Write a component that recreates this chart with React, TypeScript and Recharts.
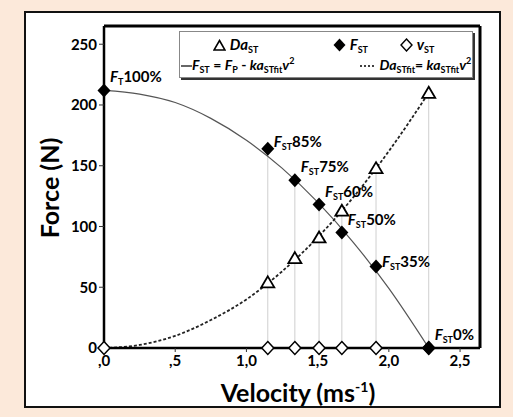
import { ComposedChart, Line, ReferenceLine, Scatter, XAxis, YAxis } from 'recharts';

// measured points
const velocity = [0, 1.15, 1.34, 1.51, 1.67, 1.91, 2.28];
const forceST = [212, 164, 138, 118, 95, 67, 0];
const labelSub = ['T', 'ST', 'ST', 'ST', 'ST', 'ST', 'ST'];
const labelPct = ['100%', '85%', '75%', '60%', '50%', '35%', '0%'];

const daVelocity = [1.15, 1.34, 1.51, 1.67, 1.91, 2.28];
const daST = [54, 74, 91, 113, 148, 210];

// fitted curves
const fitVelocity = [0, 0.25, 0.5, 0.75, 1, 1.25, 1.5, 1.75, 2, 2.28];
const fitForce = [212, 209, 202, 189, 171, 148, 120, 87, 49, 0];
const fitDa = [0, 2.5, 10, 23, 40, 63, 91, 124, 162, 210];

const xTicks = [0, 0.5, 1, 1.5, 2, 2.5];
const xTickLabels = [',0', ',5', '1,0', '1,5', '2,0', '2,5'];
const yTicks = [0, 50, 100, 150, 200, 250];

const X_MAX = 2.64;
const Y_MAX = 265;
const FONT = 'Lato, "Open Sans", sans-serif';

const fPoints = velocity.map((v, i) => ({ v, y: forceST[i], sub: labelSub[i], pct: labelPct[i] }));
const vPoints = velocity.map((v) => ({ v, y: 0 }));
const daPoints = daVelocity.map((v, i) => ({ v, y: daST[i] }));
const fitFData = fitVelocity.map((v, i) => ({ v, y: fitForce[i] }));
const fitDaData = fitVelocity.map((v, i) => ({ v, y: fitDa[i] }));
const drops = daVelocity.map((v, i) => ({ v, top: Math.max(daST[i], forceST[velocity.indexOf(v)]) }));

const FDiamond = (p: any) => {
    const { cx, cy, payload } = p;
    const dy = payload.pct === '85%' ? -2 : payload.pct === '35%' ? 0 : -8;
    return (
        <g>
            <path d={`M${cx},${cy - 7} L${cx + 6.5},${cy} L${cx},${cy + 7} L${cx - 6.5},${cy} Z`} fill="#000" />
            <text x={cx + 6} y={cy + dy} fontFamily={FONT} fontWeight="bold" fontSize={15} fill="#000">
                <tspan fontStyle="italic">F</tspan>
                <tspan fontSize={9} dy={3}>{payload.sub}</tspan>
                <tspan dy={-3}>{payload.pct}</tspan>
            </text>
        </g>
    );
};

const OpenDiamond = (p: any) => {
    const { cx, cy } = p;
    return <path d={`M${cx},${cy - 6.5} L${cx + 6},${cy} L${cx},${cy + 6.5} L${cx - 6},${cy} Z`} fill="#fff" stroke="#000" strokeWidth={1.5} />;
};

const Triangle = (p: any) => {
    const { cx, cy } = p;
    return <path d={`M${cx},${cy - 6} L${cx + 6.5},${cy + 5} L${cx - 6.5},${cy + 5} Z`} fill="#fff" stroke="#000" strokeWidth={1.8} />;
};

const Sub = ({ children }: { children: any }) => (
    <span style={{ fontSize: 9, fontStyle: 'normal', verticalAlign: -3 }}>{children}</span>
);
const Sup = ({ children }: { children: any }) => (
    <span style={{ fontSize: 9, verticalAlign: 6, lineHeight: 0 }}>{children}</span>
);

function LegendBox() {
    const row: any = { position: 'absolute', whiteSpace: 'nowrap', lineHeight: '18px' };
    return (
        <div
            style={{
                position: 'absolute',
                left: 179,
                top: 31,
                width: 294,
                height: 47,
                boxSizing: 'border-box',
                background: '#fff',
                border: '1px solid #888',
                boxShadow: '2px 2px 0 #333',
                fontFamily: FONT,
                fontWeight: 'bold',
                fontSize: 15,
                color: '#000',
            }}
        >
            <div style={{ ...row, left: 33, top: 3 }}>
                <svg width={13} height={12} style={{ verticalAlign: -1 }}>
                    <path d="M6.5,1.5 L12,11 L1,11 Z" fill="#fff" stroke="#000" strokeWidth={1.6} />
                </svg>{' '}
                <i>Da</i>
                <Sub>ST</Sub>
            </div>
            <div style={{ ...row, left: 153, top: 3 }}>
                <svg width={13} height={14} style={{ verticalAlign: -2 }}>
                    <path d="M6.5,0.5 L12.5,7 L6.5,13.5 L0.5,7 Z" fill="#000" />
                </svg>{' '}
                <i>F</i>
                <Sub>ST</Sub>
            </div>
            <div style={{ ...row, left: 220, top: 3 }}>
                <svg width={13} height={14} style={{ verticalAlign: -2 }}>
                    <path d="M6.5,1 L12,7 L6.5,13 L1,7 Z" fill="#fff" stroke="#000" strokeWidth={1.4} />
                </svg>{' '}
                <i>v</i>
                <Sub>ST</Sub>
            </div>
            <div style={{ ...row, left: 1, top: 24, fontSize: 14 }}>
                <svg width={11} height={10}>
                    <line x1={0} y1={6} x2={11} y2={6} stroke="#000" strokeWidth={1.2} />
                </svg>
                <i>F</i>
                <Sub>ST</Sub> = <i>F</i>
                <Sub>P</Sub> - <i>ka</i>
                <Sub>STfit</Sub>
                <i>v</i>
                <Sup>2</Sup>
            </div>
            <div style={{ ...row, left: 180, top: 24, fontSize: 14 }}>
                <svg width={16} height={10}>
                    <line x1={0} y1={6} x2={16} y2={6} stroke="#000" strokeWidth={1.4} strokeDasharray="2 2" />
                </svg>{' '}
                <i>Da</i>
                <Sub>STfit</Sub>= <i>ka</i>
                <Sub>STfit</Sub>
                <i>v</i>
                <Sup>2</Sup>
            </div>
        </div>
    );
}

export default function App() {
    return (
        <div style={{ position: 'absolute', left: 0, top: 0, width: 513, height: 417, background: '#fce9da' }}>
            <div
                style={{
                    position: 'absolute',
                    left: 24,
                    top: 11,
                    width: 477,
                    height: 397,
                    boxSizing: 'border-box',
                    background: '#fff',
                    border: '2px solid #111',
                }}
            />
            <div style={{ position: 'absolute', left: 0, top: 0 }}>
                <ComposedChart width={513} height={417} margin={{ top: 26, right: 33, bottom: 29, left: 0 }}>
                    <XAxis
                        type="number"
                        dataKey="v"
                        domain={[0, X_MAX]}
                        ticks={xTicks}
                        tickFormatter={(t: number) => xTickLabels[xTicks.indexOf(t)] ?? ''}
                        height={40}
                        tickSize={4}
                        tickMargin={3}
                        axisLine={{ stroke: '#000', strokeWidth: 2.5 }}
                        tickLine={{ stroke: '#333' }}
                        tick={{ fill: '#000', fontSize: 15, fontWeight: 'bold', fontFamily: FONT }}
                        label={{
                            content: (props: any) => {
                                const vb = props.viewBox || { x: 104, y: 348, width: 376 };
                                return (
                                    <text
                                        x={vb.x + vb.width / 2 + 6}
                                        y={vb.y + 54}
                                        textAnchor="middle"
                                        fontFamily={FONT}
                                        fontWeight="bold"
                                        fontSize={25}
                                        fill="#000"
                                    >
                                        Velocity (ms
                                        <tspan fontSize={14} dy={-10}>-1</tspan>
                                        <tspan dy={10}>)</tspan>
                                    </text>
                                );
                            },
                        }}
                    />
                    <YAxis
                        type="number"
                        domain={[0, Y_MAX]}
                        ticks={yTicks}
                        width={104}
                        tickSize={5}
                        tickMargin={2}
                        axisLine={{ stroke: '#000', strokeWidth: 2.5 }}
                        tickLine={{ stroke: '#333' }}
                        tick={{ fill: '#000', fontSize: 15, fontWeight: 'bold', fontFamily: FONT }}
                        label={{
                            content: () => (
                                <text
                                    x={59}
                                    y={188}
                                    transform="rotate(-90, 59, 188)"
                                    textAnchor="middle"
                                    fontFamily={FONT}
                                    fontWeight="bold"
                                    fontSize={25}
                                    fill="#000"
                                >
                                    Force (N)
                                </text>
                            ),
                        }}
                    />
                    <ReferenceLine y={Y_MAX} stroke="#000" strokeWidth={3} />
                    <ReferenceLine x={X_MAX} stroke="#000" strokeWidth={3} />
                    {drops.map((d) => (
                        <ReferenceLine
                            key={d.v}
                            segment={[
                                { x: d.v, y: 0 },
                                { x: d.v, y: d.top },
                            ]}
                            stroke="#cfcfcf"
                            strokeWidth={1}
                        />
                    ))}
                    <Line data={fitFData} dataKey="y" type="monotone" stroke="#555" strokeWidth={1.2} dot={false} isAnimationActive={false} />
                    <Line
                        data={fitDaData}
                        dataKey="y"
                        type="monotone"
                        stroke="#222"
                        strokeWidth={1.8}
                        strokeDasharray="3 2"
                        dot={false}
                        isAnimationActive={false}
                    />
                    <Scatter data={daPoints} dataKey="y" shape={Triangle} isAnimationActive={false} />
                    <Scatter data={vPoints} dataKey="y" shape={OpenDiamond} isAnimationActive={false} />
                    <Scatter data={fPoints} dataKey="y" shape={FDiamond} isAnimationActive={false} />
                </ComposedChart>
            </div>
            <LegendBox />
        </div>
    );
}
